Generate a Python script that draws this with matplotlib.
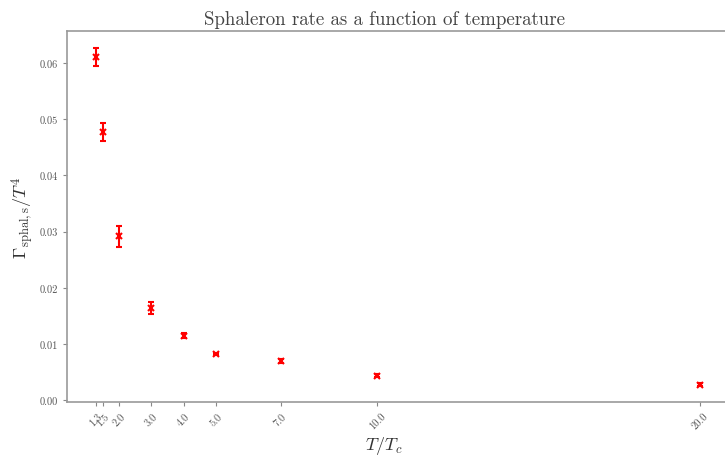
import matplotlib
matplotlib.use("Agg")
import matplotlib.pyplot as plt

T_over_Tc = [1.3, 1.5, 2.0, 3.0, 4.0, 5.0, 7.0, 10.0, 20.0]
rate = [0.0611, 0.0477, 0.0292, 0.0164, 0.0115, 0.0082, 0.0070, 0.0044, 0.0028]
rate_err = [0.0016, 0.0016, 0.0019, 0.0011, 0.0005, 0.0002, 0.0004, 0.0002, 0.0002]
xtick_labels = ["1.3", "1.5", "2.0", "3.0", "4.0", "5.0", "7.0", "10.0", "20.0"]

plt.rcParams['font.family'] = ['cmr10', 'DejaVu Serif']
plt.rcParams['mathtext.fontset'] = 'cm'
plt.rcParams['axes.formatter.use_mathtext'] = True

fig = plt.figure(figsize=(7.25, 4.56), dpi=100)
ax = fig.add_axes([0.0924, 0.1162, 0.9076, 0.8136])

ax.errorbar(T_over_Tc, rate, yerr=rate_err, fmt='x', color='red', ecolor='red',
            markersize=5, markeredgewidth=1.5, elinewidth=1.5, capsize=2, capthick=1.2)

ax.set_xlim(0.39, 20.76)
ax.set_ylim(-0.0003, 0.0657)
ax.set_xticks(T_over_Tc)
ax.set_xticklabels(xtick_labels, rotation=45, fontsize=7.5, color='#555555')
ax.set_yticks([0.0, 0.01, 0.02, 0.03, 0.04, 0.05, 0.06])
ax.set_yticklabels(["0.00", "0.01", "0.02", "0.03", "0.04", "0.05", "0.06"], fontsize=7.5, color='#555555')
ax.tick_params(axis='both', color='#888888', length=3, width=0.8)

for s in ['left', 'bottom', 'top']:
    ax.spines[s].set_color('#999999')
    ax.spines[s].set_linewidth(1.2)
ax.spines['right'].set_visible(False)

ax.set_title("Sphaleron rate as a function of temperature", fontsize=13.6, color='#444444', pad=5, x=0.482)
ax.set_ylabel(r"$\Gamma_{\rm sphal,s}/T^4$", fontsize=13, color='#333333')
ax.yaxis.set_label_coords(-0.047, 0.5)
ax.set_xlabel(r"$T/T_c$", fontsize=13, color='#333333')
ax.xaxis.set_label_coords(0.482, -0.085)

fig.savefig("out.png", dpi=100)
